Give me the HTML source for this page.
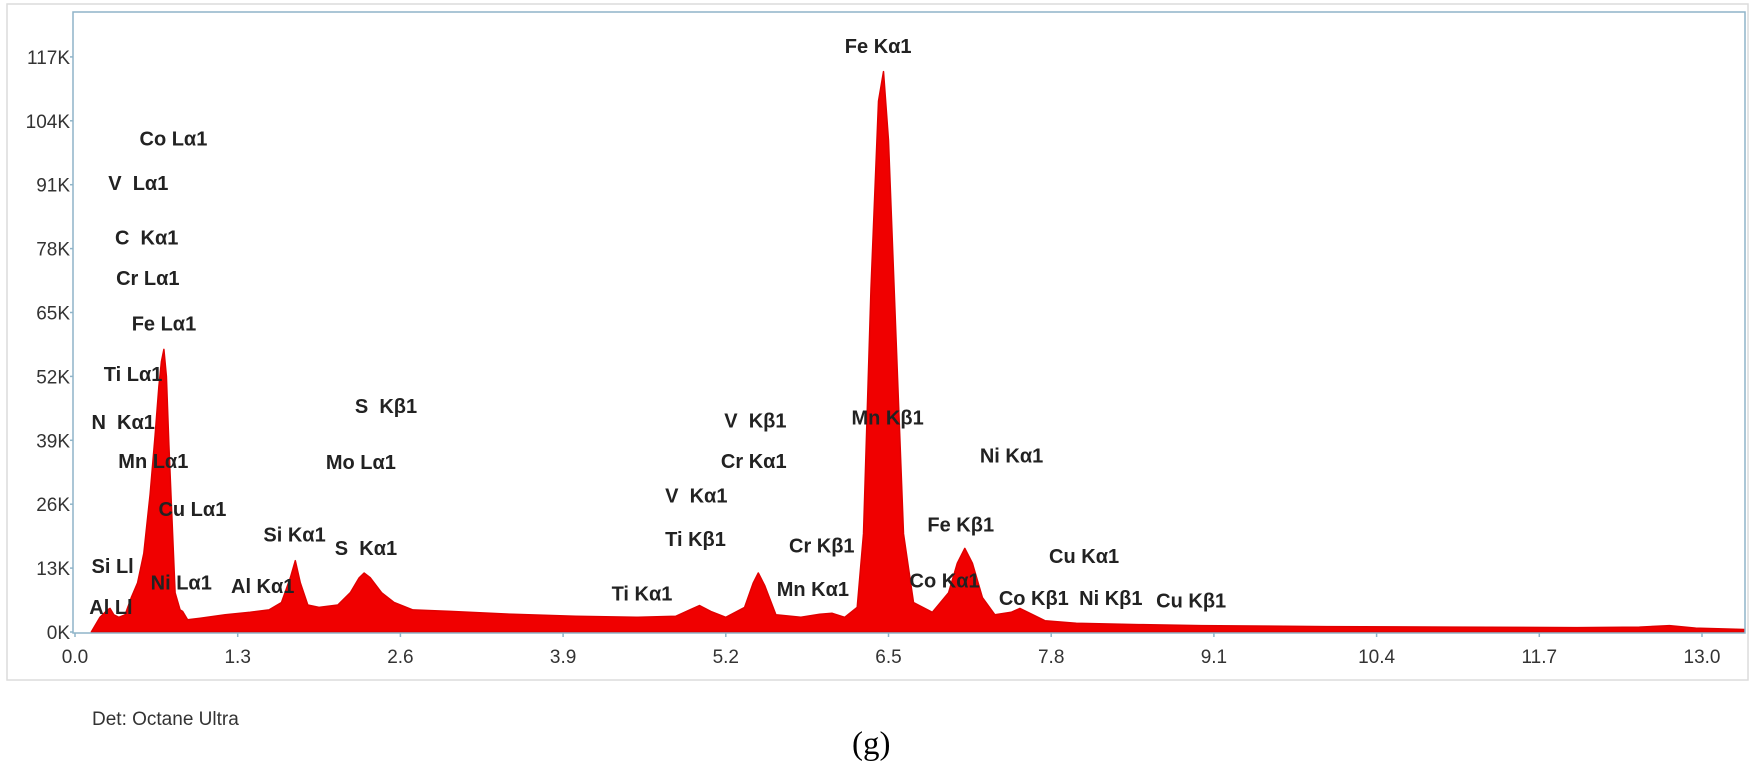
<!DOCTYPE html>
<html><head><meta charset="utf-8"><style>
html,body{margin:0;padding:0;background:#fff;}
svg{display:block;font-family:"Liberation Sans",sans-serif;}
</style></head><body>
<svg id="c" width="1750" height="761">
<rect x="7" y="4" width="1741" height="676" fill="#fff" stroke="#dcdcdc" stroke-width="1.5"/>
<g id="plot"></g>
<text x="92" y="725" font-size="19" fill="#333">Det: Octane Ultra</text>
<text x="852" y="754" font-size="33" fill="#000" font-family="Liberation Serif, serif">(g)</text>
</svg>
<script>
const energies=[0.13,0.2,0.26,0.28,0.31,0.35,0.4,0.45,0.5,0.55,0.6,0.64,0.67,0.69,0.71,0.73,0.75,0.78,0.8,0.84,0.86,0.9,1.0,1.2,1.4,1.55,1.65,1.72,1.76,1.8,1.86,1.95,2.1,2.2,2.27,2.31,2.36,2.45,2.55,2.7,3.0,3.5,4.0,4.5,4.8,4.92,4.99,5.08,5.2,5.35,5.42,5.46,5.51,5.6,5.8,5.95,6.05,6.15,6.25,6.3,6.36,6.42,6.46,6.5,6.56,6.62,6.7,6.85,6.98,7.05,7.11,7.17,7.25,7.35,7.48,7.55,7.63,7.75,8.0,8.5,9.0,10.0,11.0,12.0,12.5,12.74,12.95,13.34];
const counts=[0,3,4.5,4.8,3.5,3,3.5,7,10,16,28,40,50,55,57.5,52,38,20,8,4.5,4.2,2.5,2.8,3.5,4,4.5,6,11,14.5,10,5.5,5,5.5,8,11,12,11,8,6,4.5,4.2,3.6,3.2,3,3.2,4.6,5.4,4.2,3,5,10,12,9.5,3.5,3,3.6,3.8,3,5,20,70,108,114,100,60,20,6,4,8,14,17,14,7,3.5,4,4.8,3.8,2.3,1.8,1.5,1.3,1.1,1.0,0.9,1.0,1.3,0.8,0.5];
const xTicks=[0.0,1.3,2.6,3.9,5.2,6.5,7.8,9.1,10.4,11.7,13.0];
const yTicks=[0,13,26,39,52,65,78,91,104,117];
const labels=[["Co Lα1",125,124],["V  Lα1",97,164],["C  Kα1",103,213],["Cr Lα1",104,249],["Fe Lα1",118,290],["Ti Lα1",93,335],["N  Kα1",82,378],["Mn Lα1",106,413],["Cu Lα1",142,456],["Si Ll",82,507],["Al Ll",80,544],["Ni Lα1",135,522],["Al Kα1",207,525],["Si Kα1",236,479],["S  Kα1",300,491],["S  Kβ1",318,364],["Mo Lα1",292,414],["Fe Kα1",757,41],["V  Kβ1",649,377],["Cr Kα1",646,413],["V  Kα1",596,444],["Ti Kβ1",596,483],["Ti Kα1",548,532],["Cr Kβ1",707,489],["Mn Kα1",696,528],["Mn Kβ1",763,374],["Ni Kα1",878,408],["Fe Kβ1",831,470],["Co Kα1",815,520],["Cu Kα1",940,498],["Co Kβ1",895,536],["Ni Kβ1",967,536],["Cu Kβ1",1036,538]];
const NS="http://www.w3.org/2000/svg";
const L=73,T=12,R=1745,B=633;
const X=e=>75+(e/1.3)*162.7;
const Y=k=>632-(k/13)*63.9;
const g=document.getElementById('plot');
function mk(t,a){const e=document.createElementNS(NS,t);for(const k in a)e.setAttribute(k,a[k]);g.appendChild(e);return e;}
let d="M"+X(energies[0])+","+Y(0);
energies.forEach((e,i)=>{d+=" L"+X(e).toFixed(1)+","+Y(counts[i]).toFixed(1);});
d+=" L"+X(energies[energies.length-1])+","+Y(0)+" Z";
const p=mk('path',{d:d,fill:'#f00000',stroke:'#e00000','stroke-width':1.5,'stroke-linejoin':'round'});


const fr=mk('rect',{x:L,y:T,width:R-L,height:B-T,fill:'none',stroke:'#8fb4c8','stroke-width':1.5});


xTicks.forEach(v=>{
 const tk=mk('line',{x1:X(v),x2:X(v),y1:B,y2:B+4,stroke:'#8fb4c8','stroke-width':1.5});
 
 
 const t=mk('text',{x:X(v),y:B+30,'font-size':19,fill:'#333','text-anchor':'middle'});
 t.textContent=v.toFixed(1);
 
 
});
yTicks.forEach(v=>{
 const tk=mk('line',{x1:L-3,x2:L,y1:Y(v),y2:Y(v),stroke:'#8fb4c8','stroke-width':1.5});
 
 
 const t=mk('text',{x:L-3,y:Y(v)+7,'font-size':19,fill:'#333','text-anchor':'end'});
 t.textContent=v+"K";
 
 
});
labels.forEach(l=>{
 const t=mk('text',{x:l[1]*1.116,y:l[2]*1.116+7,'font-size':20,'font-weight':'bold',fill:'#222'});
 t.style.whiteSpace='pre';
 t.textContent=l[0];
 
 
});
</script>
</body></html>
